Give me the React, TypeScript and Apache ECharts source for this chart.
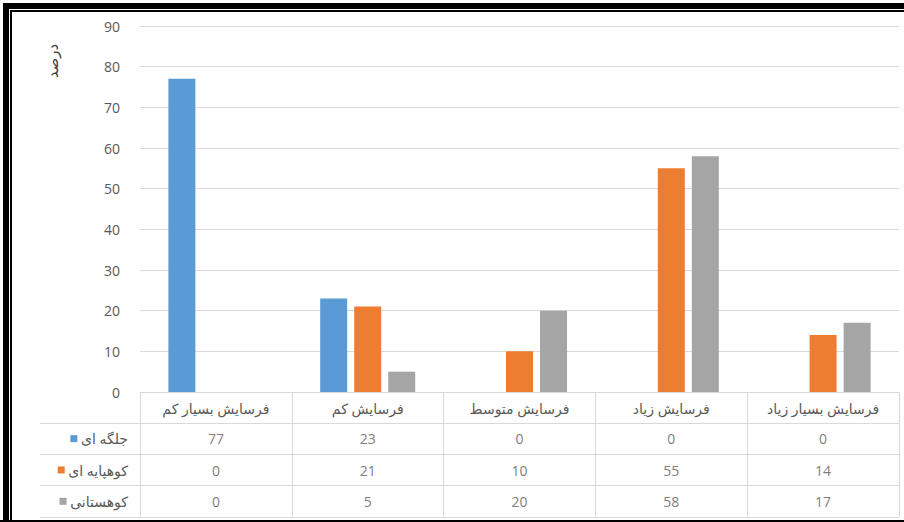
import React, { useEffect, useRef } from "react";
import * as echarts from "echarts";

const categories = ["فرسایش بسیار کم", "فرسایش کم", "فرسایش متوسط", "فرسایش زیاد", "فرسایش بسیار زیاد"];
const seriesNames = ["جلگه ای", "کوهپایه ای", "کوهستانی"];
const plainValues = [77, 23, 0, 0, 0];
const foothillValues = [0, 21, 10, 55, 14];
const mountainValues = [0, 5, 20, 58, 17];
const yTicks = { min: 0, max: 90, interval: 10 };
const yTitle = "درصد";

const colors = ["#5B9BD5", "#ED7D31", "#A5A5A5"];
const FONT = '"Open Sans", "DejaVu Sans", sans-serif';
const GRID_LINE = "#d9d9d9";
const TEXT = "#595959";

export default function App() {
  const ref = useRef<HTMLDivElement>(null);
  useEffect(() => {
    document.body.style.margin = "0";
    const chart = echarts.init(ref.current!, null, { renderer: "svg" });
    const allValues = [plainValues, foothillValues, mountainValues];
    const tableData: any[] = [];
    allValues.forEach((vals, s) => {
      vals.forEach((v, c) => tableData.push([c, s, v]));
    });
    const rich: any = { t: { fontSize: 14, color: TEXT, fontFamily: FONT } };
    colors.forEach((c, i) => {
      rich["sq" + i] = { width: 7, height: 7, backgroundColor: c };
    });
    const option: any = {
      animation: false,
      backgroundColor: "#ffffff",
      textStyle: { fontFamily: FONT },
      grid: [
        { left: 140, width: 759, top: 26, height: 366 },
        { left: 140, width: 759, top: 423, height: 94 },
      ],
      xAxis: [
        {
          type: "category",
          gridIndex: 0,
          data: categories,
          axisLine: { show: true, lineStyle: { color: GRID_LINE, width: 1 } },
          axisTick: { show: true, length: 31, lineStyle: { color: GRID_LINE } },
          axisLabel: { fontSize: 14, color: TEXT, margin: 9, fontFamily: FONT },
          splitLine: { show: false },
        },
        {
          type: "category",
          gridIndex: 1,
          data: categories,
          axisLine: { show: false },
          axisTick: { show: false },
          axisLabel: { show: false },
          splitLine: { show: true, lineStyle: { color: GRID_LINE, width: 1 } },
        },
      ],
      yAxis: [
        {
          type: "value",
          gridIndex: 0,
          min: yTicks.min,
          max: yTicks.max,
          interval: yTicks.interval,
          axisLine: { show: false },
          axisTick: { show: false },
          axisLabel: { fontSize: 14, color: TEXT, margin: 20, fontFamily: FONT },
          splitLine: { show: true, lineStyle: { color: GRID_LINE, width: 1 } },
        },
        {
          type: "category",
          gridIndex: 1,
          data: seriesNames,
          inverse: true,
          axisLine: { show: true, lineStyle: { color: GRID_LINE, width: 1 } },
          axisTick: { show: true, length: 100, lineStyle: { color: GRID_LINE } },
          axisLabel: {
            margin: 12,
            formatter: (v: string, i: number) => `{sq${i}|}{t| ${v}}`,
            rich,
          },
          splitLine: { show: true, lineStyle: { color: GRID_LINE, width: 1 } },
        },
        {
          type: "category",
          gridIndex: 1,
          data: seriesNames,
          inverse: true,
          offset: 100,
          axisLine: { show: true, lineStyle: { color: GRID_LINE, width: 1 } },
          axisTick: { show: false },
          axisLabel: { show: false },
          splitLine: { show: false },
        },
      ],
      series: [
        ...allValues.map((vals, i) => ({
          type: "bar",
          name: seriesNames[i],
          xAxisIndex: 0,
          yAxisIndex: 0,
          data: vals,
          barWidth: 27,
          barGap: "26%",
          itemStyle: { color: colors[i] },
        })),
        {
          type: "scatter",
          xAxisIndex: 1,
          yAxisIndex: 1,
          data: tableData,
          symbolSize: 1,
          itemStyle: { color: "transparent" },
          label: {
            show: true,
            position: "inside",
            formatter: (p: any) => String(p.value[2]),
            fontSize: 14,
            color: TEXT,
            fontFamily: FONT,
          },
          silent: true,
        },
      ],
      graphic: [
        {
          type: "text",
          x: 52,
          y: 61,
          rotation: Math.PI / 2,
          style: {
            text: yTitle,
            fontSize: 15,
            fill: "#404040",
            fontFamily: FONT,
            align: "center",
            verticalAlign: "middle",
          },
        },
        { type: "line", shape: { x1: 3, y1: 6, x2: 904, y2: 6 }, style: { stroke: "#000", lineWidth: 6 } },
        { type: "line", shape: { x1: 10, y1: 11, x2: 904, y2: 11 }, style: { stroke: "#000", lineWidth: 2 } },
        { type: "line", shape: { x1: 6, y1: 3, x2: 6, y2: 522 }, style: { stroke: "#000", lineWidth: 6 } },
        { type: "line", shape: { x1: 11, y1: 10, x2: 11, y2: 522 }, style: { stroke: "#000", lineWidth: 2 } },
        { type: "line", shape: { x1: 0, y1: 521, x2: 904, y2: 521 }, style: { stroke: "#000", lineWidth: 2 } },
      ],
    };
    chart.setOption(option);
    return () => chart.dispose();
  }, []);
  return <div ref={ref} style={{ width: 904, height: 522 }} />;
}
